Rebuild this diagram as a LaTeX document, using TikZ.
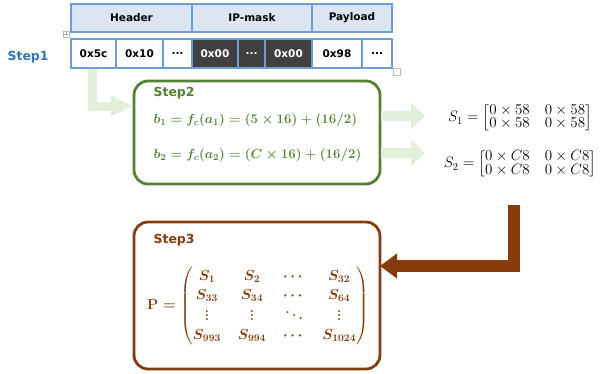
\RequirePackage{fix-cm}
\documentclass[tikz,border=0pt]{standalone}
\usepackage[no-math]{fontspec}
\setmainfont{DejaVu Sans}
\usepackage{amsmath}
\usetikzlibrary{arrows.meta,calc}

\definecolor{stepblue}{HTML}{2E75B6}
\definecolor{tblue}{HTML}{6A9FD6}
\definecolor{hfill}{HTML}{DCE6F2}
\definecolor{darkcell}{HTML}{404040}
\definecolor{sgreen}{HTML}{548235}
\definecolor{lgreen}{HTML}{E2F0D9}
\definecolor{sbrown}{HTML}{843C0C}

\newcommand{\eqone}{$b_1 = f_c(a_1) = (5\times 16) + (16/2)$}
\newcommand{\eqtwo}{$b_2 = f_c(a_2) = (C\times 16) + (16/2)$}
\newcommand{\smatone}{$S_1=\renewcommand\arraystretch{0.72}\setlength\arraycolsep{7.5pt}\begin{bmatrix}0\times 58 & 0\times 58\\ 0\times 58 & 0\times 58\end{bmatrix}$}
\newcommand{\smattwo}{$S_2=\renewcommand\arraystretch{0.72}\setlength\arraycolsep{7.5pt}\begin{bmatrix}0\times C8 & 0\times C8\\ 0\times C8 & 0\times C8\end{bmatrix}$}
\newcommand{\pmat}{$\mathbf{P}=\renewcommand\arraystretch{1.12}\setlength\arraycolsep{8.5pt}\begin{pmatrix}
    S_1 & S_2 & \cdots & S_{32}\\
    S_{33} & S_{34} & \cdots & S_{64}\\
    \vdots & \vdots & \ddots & \vdots\\
    S_{993} & S_{994} & \cdots & S_{1024}
  \end{pmatrix}$}

\tikzset{
  cell/.style={draw=tblue, line width=1.3pt, inner sep=0pt, anchor=center,
    font=\bfseries\fontsize{10.5}{12}\selectfont},
  hcell/.style={cell, fill=hfill, minimum height=28pt},
  dcell/.style={cell, fill=white, minimum height=29pt},
  mcell/.style={dcell, fill=darkcell, text=white},
  handle/.style={draw=gray!55, fill=white, line width=0.5pt, inner sep=0pt, minimum size=6pt},
  steplabel/.style={anchor=west, font=\bfseries\fontsize{12.5}{14}\selectfont},
  eqlabel/.style={anchor=west, font=\fontsize{13.2}{15}\selectfont\mathversion{bold}},
  smat/.style={inner sep=0pt, font=\fontsize{15}{17}\selectfont},
  stepbox/.style={line width=2.8pt, rounded corners=14pt, minimum width=246pt},
  garrowA/.style={draw=lgreen, line width=9pt, line join=miter,
    -{Triangle[length=22pt,width=19pt]}},
  garrowB/.style={draw=lgreen, line width=10pt,
    -{Triangle[length=14pt,width=26pt]}},
  barrow/.style={draw=sbrown, line width=12pt, line join=miter,
    -{Triangle[length=17pt,width=24pt]}},
}

\begin{document}
\begin{tikzpicture}[x=1pt,y=-1pt]
\useasboundingbox (0,0) rectangle (607,373);

% ---- packet layout table ----
\node[hcell, minimum width=121pt] (hdr)  at (131.5,18) {Header};
\node[hcell, minimum width=120pt] (mask) at (252,18)   {IP-mask};
\node[hcell, minimum width=80pt]  (pay)  at (352,18)   {Payload};

\node[dcell, minimum width=45pt] (c1) at (93.5,53.5)  {0x5c};
\node[dcell, minimum width=47pt] (c2) at (139.5,53.5) {0x10};
\node[dcell, minimum width=29pt] (c3) at (177.5,53.5) {...};
\node[mcell, minimum width=46pt] (c4) at (215,53.5)   {0x00};
\node[mcell, minimum width=27pt] (c5) at (251.5,53.5) {...};
\node[mcell, minimum width=47pt] (c6) at (288.5,53.5) {0x00};
\node[dcell, minimum width=50pt] (c7) at (337,53.5)   {0x98};
\node[dcell, minimum width=30pt] (c8) at (377,53.5)   {...};

% table handles
\node[handle] (mv) at (66,34) {};
\draw[gray!60, line width=0.4pt] ([xshift=-2pt]mv.center) -- ([xshift=2pt]mv.center)
  ([yshift=-2pt]mv.center) -- ([yshift=2pt]mv.center);
\node[handle, minimum size=7pt] (rs) at (397,72) {};

\node[steplabel, text=stepblue] (step1) at (4,57) {Step1};

% ---- connectors ----
\coordinate (s2in) at (133,106);
\coordinate (ga) at (425,116);
\coordinate (gb) at (425,153);
\coordinate (bstart) at (514,205);
\coordinate (b3in) at (380,266);

\draw[garrowA] ([xshift=-1pt]c1.south) |- (s2in);

% ---- step 2 ----
\node[stepbox, draw=sgreen, minimum height=103pt] (step2) at (257,132.5) {};
\node[steplabel, text=sgreen] (st2) at (150,93) {Step2};
\node[eqlabel, text=sgreen] (eq1) at (150,120) {\eqone};
\node[eqlabel, text=sgreen] (eq2) at (150,155) {\eqtwo};

\draw[garrowB] (step2.east |- ga) -- (ga);
\draw[garrowB] (step2.east |- gb) -- (gb);

% ---- resulting sub-matrices ----
\node[smat] (s1) at (520,118) {\smatone};
\node[smat] (s2) at (520,164) {\smattwo};

\draw[barrow] (bstart) |- (b3in);

% ---- step 3 ----
\node[stepbox, draw=sbrown, minimum height=147pt] (step3) at (257,295.5) {};
\node[steplabel, text=sbrown] (st3) at (150,240) {Step3};
\node[text=sbrown, font=\fontsize{14.5}{17}\selectfont\mathversion{bold}, inner sep=0pt] (pm) at (258,306) {\pmat};
\end{tikzpicture}
\end{document}
